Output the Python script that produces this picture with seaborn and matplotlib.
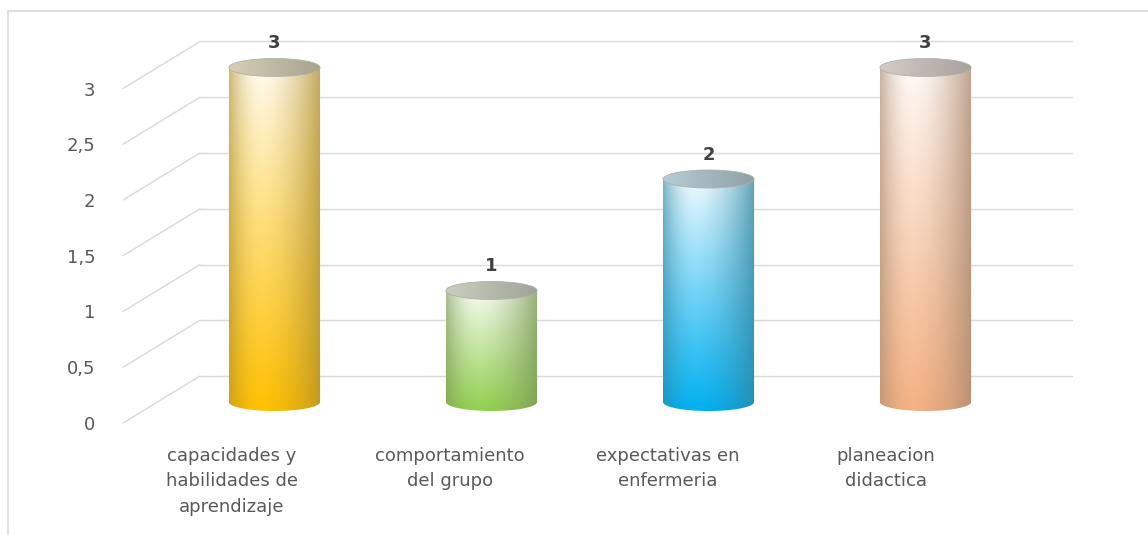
import numpy as np
import matplotlib
matplotlib.use("Agg")
import matplotlib.pyplot as plt
import seaborn as sns
import pandas as pd
from matplotlib.patches import Ellipse, ConnectionPatch
from matplotlib.path import Path
from matplotlib.lines import Line2D
from matplotlib.colors import to_rgb

# ---------------- data ----------------
categories = ["capacidades y\nhabilidades de\naprendizaje",
              "comportamiento\ndel grupo",
              "expectativas en\nenfermeria",
              "planeacion\ndidactica"]
values = [3, 1, 2, 3]
yticks = [0, 0.5, 1, 1.5, 2, 2.5, 3]
ytick_labels = ["0", "0,5", "1", "1,5", "2", "2,5", "3"]
bar_colors = ["#FFC000", "#92D050", "#00B0F0", "#F4B183"]

# ---------------- layout ----------------
W, H = 1148, 535
sns.set_theme(style="white")
plt.rcParams['font.family'] = ['DejaVu Sans']

fig = plt.figure(figsize=(W / 100, H / 100), dpi=100)
fig.patch.set_facecolor("white")

YMIN, YMAX = -0.3, 3.3
PPU = 111.5
GRID = "#d9d9d9"
TXT = "#595959"


def axes_rect(left_px, zero_px, width_px):
    bottom_px = zero_px + (-YMIN) * PPU
    height_px = (YMAX - YMIN) * PPU
    return [left_px / W, 1 - bottom_px / H, width_px / W, height_px / H]


ax_back = fig.add_axes(axes_rect(200, 376, 872), zorder=0)
ax_front = fig.add_axes(axes_rect(123, 423, 872), zorder=0.2)
ax = fig.add_axes(axes_rect(166, 402, 868), zorder=2)

for a in (ax_back, ax_front, ax):
    a.set_facecolor("none")
    a.set_ylim(YMIN, YMAX)
    a.set_xlim(-0.5, 3.5)
    for s in a.spines.values():
        s.set_visible(False)

# back wall gridlines
ax_back.set_yticks(yticks)
ax_back.set_xticks([])
ax_back.tick_params(axis="y", length=0, labelleft=False)
ax_back.yaxis.grid(True, color=GRID, lw=1)
for gl in ax_back.get_ygridlines():
    gl.set_clip_on(False)

# front: tick labels
ax_front.set_yticks(yticks)
ax_front.set_yticklabels(ytick_labels, fontsize=13, color=TXT)
ax_front.tick_params(axis="y", length=0, pad=20)
ax_front.set_xticks(range(len(categories)))
ax_front.set_xticklabels(categories, fontsize=13, color=TXT, linespacing=1.55)
ax_front.tick_params(axis="x", length=0, pad=-7)
ax_front.grid(False)

# floor diagonals
for v in yticks:
    con = ConnectionPatch(xyA=(0, v), coordsA=ax_front.get_yaxis_transform(),
                          xyB=(0, v), coordsB=ax_back.get_yaxis_transform(),
                          color=GRID, lw=1, zorder=0.5)
    fig.add_artist(con)

# chart border (top & left)
fig.add_artist(Line2D([8 / W, 1], [1 - 11 / H, 1 - 11 / H], transform=fig.transFigure,
                      color=GRID, lw=1.2))
fig.add_artist(Line2D([8 / W, 8 / W], [0, 1 - 11 / H], transform=fig.transFigure,
                      color=GRID, lw=1.2))

# ---------------- bars ----------------
df = pd.DataFrame({"cat": categories, "val": values})
sns.barplot(data=df, x="cat", y="val", hue="cat", palette=bar_colors,
            legend=False, width=0.42, ax=ax)
ax.set_xlim(-0.5, 3.5)
ax.set_ylim(YMIN, YMAX)
ax.set_xlabel("")
ax.set_ylabel("")
ax.tick_params(axis="both", length=0, labelbottom=False, labelleft=False)
ax.grid(False)

eh = 18 / PPU  # ellipse height in data units


def body_image(color, nh=240, nv=300):
    C = np.array(to_rgb(color))
    u = np.linspace(0, 1, nh)[None, :, None]
    v = np.linspace(0, 1, nv)[:, None, None]
    t = 0.05 + 0.95 * v ** 0.9
    base = (1 - t) * 1.0 + t * C
    u0 = 0.36
    d = np.where(u < u0, 0.6 * ((u0 - u) / u0) ** 2,
                 0.75 * ((u - u0) / (1 - u0)) ** 1.6)
    D = 0.5 * C + 0.5 * np.array([0.36, 0.35, 0.32])
    img = base * (1 - d) + D * d
    return np.clip(img, 0, 1)


def cap_image(color, nh=200):
    C = np.array(to_rgb(color))
    u = np.linspace(0, 1, nh)[None, :, None]
    g = 0.84 - 0.18 * u
    img = 0.85 * g + 0.15 * (C * g)
    img = np.repeat(img, 20, axis=0)
    return np.clip(img, 0, 1)


patches = [p for p in ax.patches]
for p, col in zip(patches, bar_colors):
    x0, w, h = p.get_x(), p.get_width(), p.get_height()
    x1 = x0 + w
    xc = x0 + w / 2
    p.set_facecolor("none")
    p.set_edgecolor("none")
    # body outline: bottom half ellipse + rectangle
    th = np.linspace(np.pi, 2 * np.pi, 60)
    pts = [(xc + w / 2 * np.cos(a), eh / 2 * np.sin(a)) for a in th]
    pts += [(x1, h), (x0, h), pts[0]]
    codes = [Path.MOVETO] + [Path.LINETO] * (len(pts) - 2) + [Path.CLOSEPOLY]
    body = Path(pts, codes)
    im = ax.imshow(body_image(col), extent=[x0, x1, -eh / 2, h], aspect="auto",
                   interpolation="bilinear", zorder=3)
    im.set_clip_path(body, ax.transData)
    # top cap
    cap = Ellipse((xc, h), w, eh, transform=ax.transData)
    im2 = ax.imshow(cap_image(col), extent=[x0, x1, h - eh / 2, h + eh / 2],
                    aspect="auto", interpolation="bilinear", zorder=4)
    im2.set_clip_path(cap)
    ax.add_patch(Ellipse((xc, h), w, eh, facecolor="none", edgecolor="#b0b0aa",
                         lw=0.6, zorder=5))

ax.set_xlim(-0.5, 3.5)
ax.set_ylim(YMIN, YMAX)

for cont in ax.containers:
    ax.bar_label(cont, padding=11, fontsize=13, fontweight="bold", color="#404040")

fig.savefig("out.png", dpi=100, facecolor="white")
